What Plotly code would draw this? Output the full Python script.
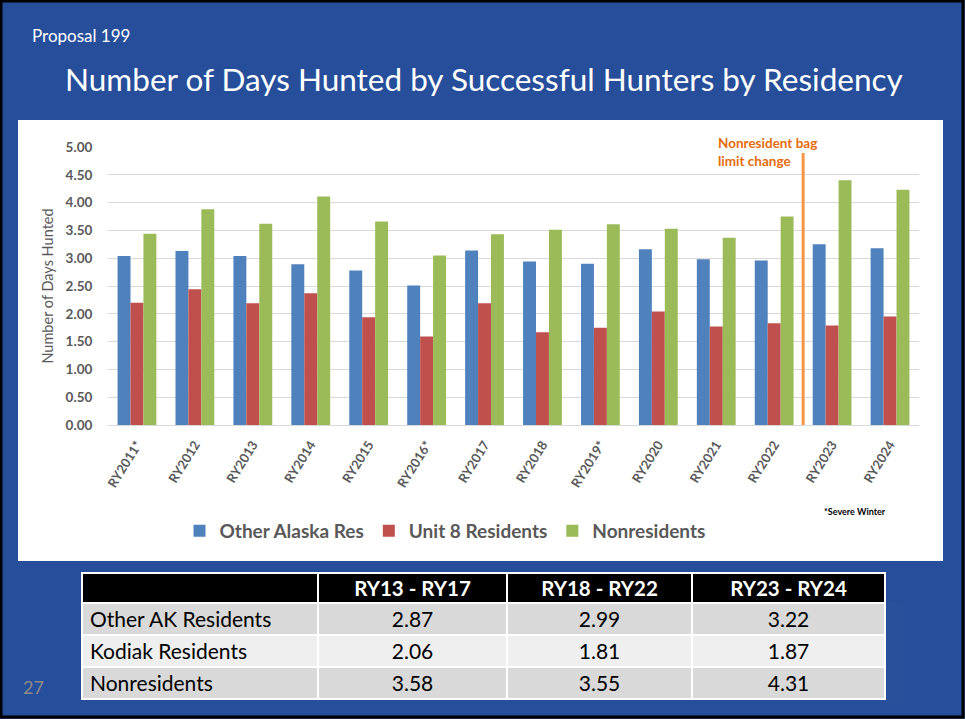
import plotly.graph_objects as go

W, H = 965, 719

categories = ["RY2011*", "RY2012", "RY2013", "RY2014", "RY2015", "RY2016*", "RY2017",
              "RY2018", "RY2019*", "RY2020", "RY2021", "RY2022", "RY2023", "RY2024"]
other_alaska = [3.04, 3.13, 3.04, 2.89, 2.78, 2.51, 3.14, 2.94, 2.90, 3.16, 2.98, 2.96, 3.25, 3.18]
unit8 = [2.20, 2.44, 2.19, 2.37, 1.94, 1.59, 2.19, 1.67, 1.75, 2.04, 1.77, 1.83, 1.79, 1.95]
nonres = [3.44, 3.88, 3.62, 4.11, 3.66, 3.05, 3.43, 3.51, 3.61, 3.53, 3.37, 3.75, 4.40, 4.23]

series_names = ["Other Alaska Res", "Unit 8 Residents", "Nonresidents"]
series_colors = ["#4F81BD", "#C0504D", "#9BBB59"]

table_header = ["", "RY13 - RY17", "RY18 - RY22", "RY23 - RY24"]
table_rows = ["Other AK Residents", "Kodiak Residents", "Nonresidents"]
table_ry13_17 = ["2.87", "2.06", "3.58"]
table_ry18_22 = ["2.99", "1.81", "3.55"]
table_ry23_24 = ["3.22", "1.87", "4.31"]

FONT = "Lato"
GRAY = "#595959"
BG = "#264E9A"


def px(x):
    return x / W


def py(y):
    return (H - y) / H


fig = go.Figure()
for name, vals, col in zip(series_names, [other_alaska, unit8, nonres], series_colors):
    fig.add_trace(go.Bar(x=categories, y=vals, name=name, marker_color=col,
                         marker_line_width=0))

row_fill = ["#D9D9D9", "#EFEFEF", "#D9D9D9"]
fig.add_trace(go.Table(
    domain=dict(x=[px(82), px(885)], y=[py(705), py(573)]),
    columnwidth=[236, 189, 185, 193],
    header=dict(values=table_header,
                fill_color="black", line=dict(color="white", width=2),
                font=dict(family=FONT, size=20.5, color="white", weight="bold"),
                align="center", height=30),
    cells=dict(values=[table_rows, table_ry13_17, table_ry18_22, table_ry23_24],
               fill_color=[row_fill] * 4, line=dict(color="white", width=2),
               font=dict(family=FONT, size=21, color="black"),
               align=["left", "center", "center", "center"], height=32),
))

shapes = [
    # white chart panel
    dict(type="rect", xref="paper", yref="paper", x0=px(18), x1=px(943), y0=py(561), y1=py(120),
         fillcolor="white", line=dict(width=0), layer="below"),
    # slide border
    dict(type="rect", xref="paper", yref="paper", x0=px(1), x1=px(963), y0=py(717), y1=py(1),
         fillcolor="rgba(0,0,0,0)", line=dict(color="black", width=3), layer="above"),
    # bag limit change line
    dict(type="line", xref="x", yref="y", x0=11.5, x1=11.5, y0=0, y1=4.89,
         line=dict(color="#F79646", width=3), layer="above"),
]

annotations = [
    dict(text="Proposal 199", xref="paper", yref="paper", x=px(30), y=py(35),
         xanchor="left", yanchor="middle", showarrow=False,
         font=dict(family=FONT, size=17, color="white")),
    dict(text="Number of Days Hunted by Successful Hunters by Residency", xref="paper", yref="paper",
         x=px(484), y=py(79), xanchor="center", yanchor="middle", showarrow=False,
         font=dict(family=FONT, size=31.5, color="white")),
    dict(text="<b>Nonresident bag<br>limit change</b>", xref="paper", yref="paper",
         x=px(716), y=py(152), xanchor="left", yanchor="middle", align="left", showarrow=False,
         font=dict(family=FONT, size=13.5, color="#E46C0A")),
    dict(text="<b>*Severe Winter</b>", xref="paper", yref="paper",
         x=px(822), y=py(511), xanchor="left", yanchor="middle", showarrow=False,
         font=dict(family=FONT, size=9, color="black")),
    dict(text="27", xref="paper", yref="paper", x=px(33), y=py(687),
         xanchor="center", yanchor="middle", showarrow=False,
         font=dict(family=FONT, size=18, color="#8C8C8C")),
]

fig.update_layout(
    width=W, height=H, autosize=False,
    margin=dict(l=0, r=0, t=0, b=0, pad=0, autoexpand=False),
    paper_bgcolor=BG, plot_bgcolor="white",
    barmode="group", bargap=0.33, bargroupgap=0,
    font=dict(family=FONT, color=GRAY),
    shapes=shapes, annotations=annotations,
    showlegend=True,
    legend=dict(orientation="h", x=px(445), xanchor="center", y=py(531), yanchor="middle",
                font=dict(family=FONT, size=19, color=GRAY, weight="bold"),
                bgcolor="rgba(0,0,0,0)", itemwidth=30, traceorder="normal"),
    xaxis=dict(domain=[px(108), px(919)], tickangle=-58, showgrid=False, automargin=False,
               showline=False, zeroline=False,
               tickfont=dict(family=FONT, size=13, color=GRAY, weight="bold"),
               ticks="outside", ticklen=6, tickcolor="rgba(0,0,0,0)", fixedrange=True),
    yaxis=dict(domain=[py(425), py(147)], range=[0, 5], dtick=0.5, tickformat=".2f",
               automargin=False,
               showgrid=True, gridcolor="#D9D9D9", gridwidth=1,
               zeroline=True, zerolinecolor="#D9D9D9", zerolinewidth=1, showline=False,
               tickfont=dict(family=FONT, size=13.5, color=GRAY, weight="bold"),
               ticks="outside", ticklen=12, tickcolor="rgba(0,0,0,0)",
               title=dict(text="Number of Days Hunted", standoff=8,
                          font=dict(family=FONT, size=14.5, color=GRAY)),
               fixedrange=True),
)

fig.write_html("out.html", config={"displayModeBar": False},
               post_script="document.body.style.margin='0';document.body.style.padding='0';"
                           "document.documentElement.style.overflow='hidden';")
